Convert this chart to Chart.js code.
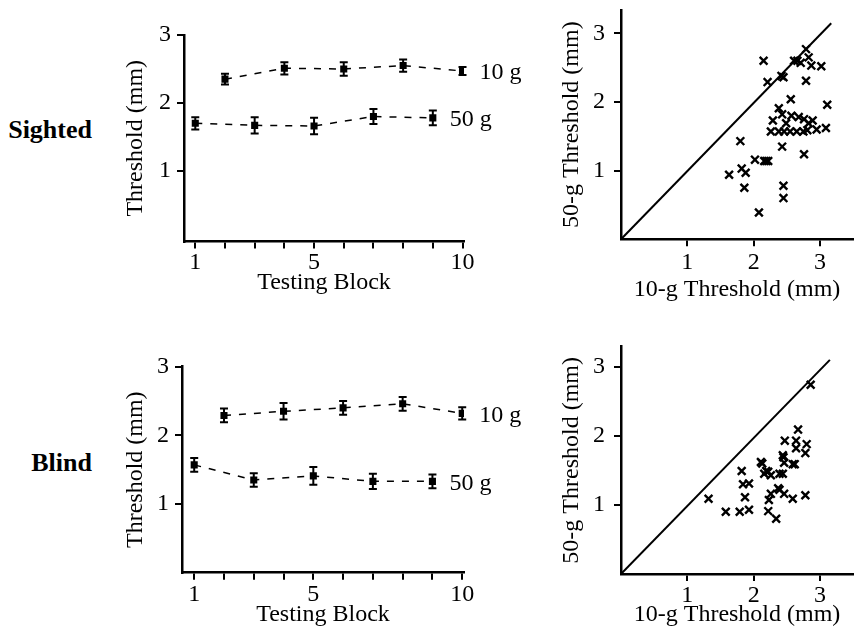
<!DOCTYPE html>
<html>
<head>
<meta charset="utf-8">
<script src="https://cdn.jsdelivr.net/npm/chart.js@4.4.0/dist/chart.umd.min.js"></script>
<style>
  body { margin: 0; background: #fff; width: 861px; height: 632px; position: relative; overflow: hidden; font-family: 'Liberation Serif', serif; }
  canvas { position: absolute; }
  .group { position: absolute; left: 0; width: 92px; text-align: right; font-weight: bold; font-size: 26px; line-height: 30px; color: #000; }
</style>
</head>
<body>
<div class="group" style="top:115px">Sighted</div>
<div class="group" style="top:448px">Blind</div>
<canvas id="sightedLine" width="440" height="300" style="left:100px;top:0px"></canvas>
<canvas id="sightedScatter" width="321" height="310" style="left:540px;top:0px"></canvas>
<canvas id="blindLine" width="440" height="312" style="left:100px;top:320px"></canvas>
<canvas id="blindScatter" width="321" height="312" style="left:540px;top:320px"></canvas>
<script>
// blocks and ticks
const blocks = [1, 2, 3, 4, 5, 6, 7, 8, 9, 10];
const blockLabels = [1, 5, 10];
const thresholdTicks = [1, 2, 3];
const blocks10g = [2, 4, 6, 8, 10];
const blocks50g = [1, 3, 5, 7, 9];

// mean thresholds (mm) and error bars per testing block
const sighted10g = [2.35, 2.51, 2.50, 2.55, 2.47];
const sighted10gErr = [0.08, 0.09, 0.10, 0.09, 0.06];
const sighted50g = [1.70, 1.67, 1.66, 1.80, 1.78];
const sighted50gErr = [0.09, 0.12, 0.12, 0.11, 0.11];

const blind10g = [2.29, 2.35, 2.40, 2.46, 2.32];
const blind10gErr = [0.10, 0.12, 0.10, 0.10, 0.09];
const blind50g = [1.57, 1.35, 1.41, 1.33, 1.33];
const blind50gErr = [0.10, 0.10, 0.13, 0.11, 0.10];

// individual subjects: 10-g threshold vs 50-g threshold
const sighted10gSubj = [2.15, 2.21, 2.45, 2.42, 2.61, 2.66, 2.71, 2.79, 2.83, 2.87, 3.02, 2.79,
  2.56, 3.11, 2.38, 2.43, 2.29, 2.57, 2.68, 2.76, 2.89, 2.83, 2.49,
  2.26, 2.38, 2.46, 2.55, 2.65, 2.75, 2.81, 2.95, 3.09,
  1.80, 2.43, 2.76, 2.02, 2.16, 2.19, 2.22, 1.82, 1.88, 1.63, 1.86, 2.45, 2.45, 2.08];
const sighted50gSubj = [2.60, 2.29, 2.36, 2.38, 2.60, 2.60, 2.57, 2.77, 2.65, 2.53, 2.52, 2.31,
  2.04, 1.96, 1.91, 1.82, 1.73, 1.80, 1.78, 1.75, 1.73, 1.69, 1.69,
  1.57, 1.57, 1.57, 1.57, 1.57, 1.57, 1.59, 1.60, 1.62,
  1.43, 1.35, 1.24, 1.16, 1.14, 1.14, 1.14, 1.03, 0.97, 0.94, 0.75, 0.78, 0.60, 0.39];

const blind10gSubj = [2.67, 2.47, 2.64, 2.80, 2.64, 2.78, 2.44, 2.45, 2.46, 2.59, 2.62, 2.11, 2.13,
  1.82, 2.19, 2.22, 2.26, 2.16, 2.39, 2.44, 1.84, 1.93, 1.87, 2.37, 2.39, 2.26, 2.46,
  2.59, 2.78, 2.23, 1.32, 1.58, 1.79, 1.93, 2.22, 2.34, 2.86];
const blind50gSubj = [2.09, 1.93, 1.93, 1.88, 1.82, 1.75, 1.72, 1.69, 1.61, 1.59, 1.59, 1.62, 1.60,
  1.49, 1.49, 1.48, 1.43, 1.45, 1.45, 1.45, 1.30, 1.31, 1.11, 1.24, 1.22, 1.16, 1.16,
  1.09, 1.14, 1.07, 1.09, 0.90, 0.90, 0.93, 0.91, 0.80, 2.74];

// equality line endpoints
const sightedDiagonal = [0, 3.17];
const blindDiagonal = [0, 3.15];

Chart.defaults.font.family = "'Liberation Serif', serif";
Chart.defaults.font.size = 24;
Chart.defaults.color = '#000';

const errorBars = {
  id: 'errorBars',
  afterDatasetsDraw(chart) {
    const ctx = chart.ctx;
    const xs = chart.scales.x, ys = chart.scales.y;
    chart.data.datasets.forEach(ds => {
      if (!ds.errors) return;
      ctx.save();
      ctx.strokeStyle = '#000';
      ctx.lineWidth = 2;
      ds.data.forEach((p, i) => {
        const px = xs.getPixelForValue(p.x);
        const top = ys.getPixelForValue(p.y + ds.errors[i]);
        const bot = ys.getPixelForValue(p.y - ds.errors[i]);
        ctx.beginPath();
        ctx.moveTo(px, top); ctx.lineTo(px, bot);
        ctx.moveTo(px - 4, top); ctx.lineTo(px + 4, top);
        ctx.moveTo(px - 4, bot); ctx.lineTo(px + 4, bot);
        ctx.stroke();
      });
      ctx.restore();
    });
  }
};

const endLabels = {
  id: 'endLabels',
  afterDatasetsDraw(chart) {
    const ctx = chart.ctx;
    chart.data.datasets.forEach((ds, di) => {
      if (!ds.endLabel) return;
      const pts = chart.getDatasetMeta(di).data;
      const last = pts[pts.length - 1];
      ctx.save();
      ctx.font = "24px 'Liberation Serif', serif";
      ctx.fillStyle = '#000';
      ctx.textBaseline = 'middle';
      ctx.fillText(ds.endLabel, last.x + 17, last.y + 2);
      ctx.restore();
    });
  }
};

function scale(o) {
  const horizontal = o.axis === 'x';
  return {
    type: 'linear',
    position: horizontal ? 'bottom' : 'left',
    min: o.min,
    max: o.max,
    afterBuildTicks: s => { s.ticks = o.ticks.map(v => ({ value: v })); },
    afterFit: s => {
      if (horizontal) s.height = o.size; else s.width = o.size;
      s.paddingTop = 0; s.paddingBottom = 0; s.paddingLeft = 0; s.paddingRight = 0;
    },
    grid: { display: true, drawOnChartArea: false, drawTicks: true, tickLength: o.tickLength, color: '#000', lineWidth: 2 },
    border: { display: true, color: '#000', width: 2.5 },
    ticks: {
      autoSkip: false,
      maxRotation: 0,
      padding: o.tickPad,
      color: '#000',
      callback: v => (o.labels.includes(v) ? String(v) : '')
    },
    title: {
      display: true,
      text: o.title,
      color: '#000',
      font: { size: 24 },
      padding: horizontal ? { top: 0, bottom: o.titlePad } : { top: o.titlePad, bottom: 0 }
    }
  };
}

function lineChart(id, v10, e10, v50, e50, lay) {
  const ds = (xs, ys, errs, name) => ({
    label: name,
    endLabel: name,
    data: xs.map((b, i) => ({ x: b, y: ys[i] })),
    errors: errs,
    borderColor: '#000',
    borderWidth: 1.5,
    borderDash: [7, 8],
    pointStyle: 'rect',
    pointRadius: 5,
    pointBackgroundColor: '#000',
    pointBorderColor: '#000',
    pointBorderWidth: 0,
    tension: 0
  });
  new Chart(document.getElementById(id), {
    type: 'line',
    data: { datasets: [ds(blocks10g, v10, e10, '10 g'), ds(blocks50g, v50, e50, '50 g')] },
    options: {
      responsive: false,
      animation: false,
      events: [],
      layout: { padding: { left: 0, top: lay.top, right: lay.right, bottom: 0 } },
      plugins: { legend: { display: false }, tooltip: { enabled: false } },
      scales: {
        x: scale({ axis: 'x', min: lay.xmin, max: lay.xmax, ticks: blocks, labels: blockLabels, size: lay.xh, tickLength: 7, tickPad: lay.xpad, title: 'Testing Block', titlePad: 3 }),
        y: scale({ axis: 'y', min: lay.ymin, max: 3, ticks: thresholdTicks, labels: thresholdTicks, size: lay.yw, tickLength: 7, tickPad: 6, title: 'Threshold (mm)', titlePad: 21 })
      }
    },
    plugins: [errorBars, endLabels]
  });
}

function scatterChart(id, xs, ys, diag, lay) {
  new Chart(document.getElementById(id), {
    type: 'scatter',
    data: {
      datasets: [
        {
          data: xs.map((x, i) => ({ x: x, y: ys[i] })),
          pointStyle: 'crossRot',
          pointRadius: 5.5,
          borderColor: '#000',
          borderWidth: 2.4
        },
        {
          type: 'line',
          data: diag.map(v => ({ x: v, y: v * lay.slope })),
          borderColor: '#000',
          borderWidth: 2,
          pointRadius: 0
        }
      ]
    },
    options: {
      responsive: false,
      animation: false,
      events: [],
      layout: { padding: { left: 0, top: lay.top, right: 0, bottom: 0 } },
      plugins: { legend: { display: false }, tooltip: { enabled: false } },
      scales: {
        x: scale({ axis: 'x', min: 0, max: 3.5, ticks: thresholdTicks, labels: thresholdTicks, size: lay.xh, tickLength: 7, tickPad: lay.xpad, title: '10-g Threshold (mm)', titlePad: lay.titlePad }),
        y: scale({ axis: 'y', min: 0, max: lay.ymax, ticks: thresholdTicks, labels: thresholdTicks, size: 81, tickLength: 7, tickPad: 9, title: '50-g Threshold (mm)', titlePad: 17 })
      }
    }
  });
}

lineChart('sightedLine', sighted10g, sighted10gErr, sighted50g, sighted50gErr,
  { top: 35, right: 76, xh: 58.5, yw: 84, xmin: 0.62, xmax: 10.05, ymin: -0.04, xpad: 0 });
lineChart('blindLine', blind10g, blind10gErr, blind50g, blind50gErr,
  { top: 46.7, right: 76, xh: 59.3, yw: 82, xmin: 0.59, xmax: 10.06, ymin: 0, xpad: 1 });
scatterChart('sightedScatter', sighted10gSubj, sighted50gSubj, sightedDiagonal,
  { top: 10, xh: 70.7, ymax: 3.34, xpad: 2, titlePad: 5.6, slope: 0.993 });
scatterChart('blindScatter', blind10gSubj, blind50gSubj, blindDiagonal,
  { top: 26.7, xh: 58, ymax: 3.29, xpad: 0, titlePad: 2.6, slope: 0.984 });
</script>
</body>
</html>
